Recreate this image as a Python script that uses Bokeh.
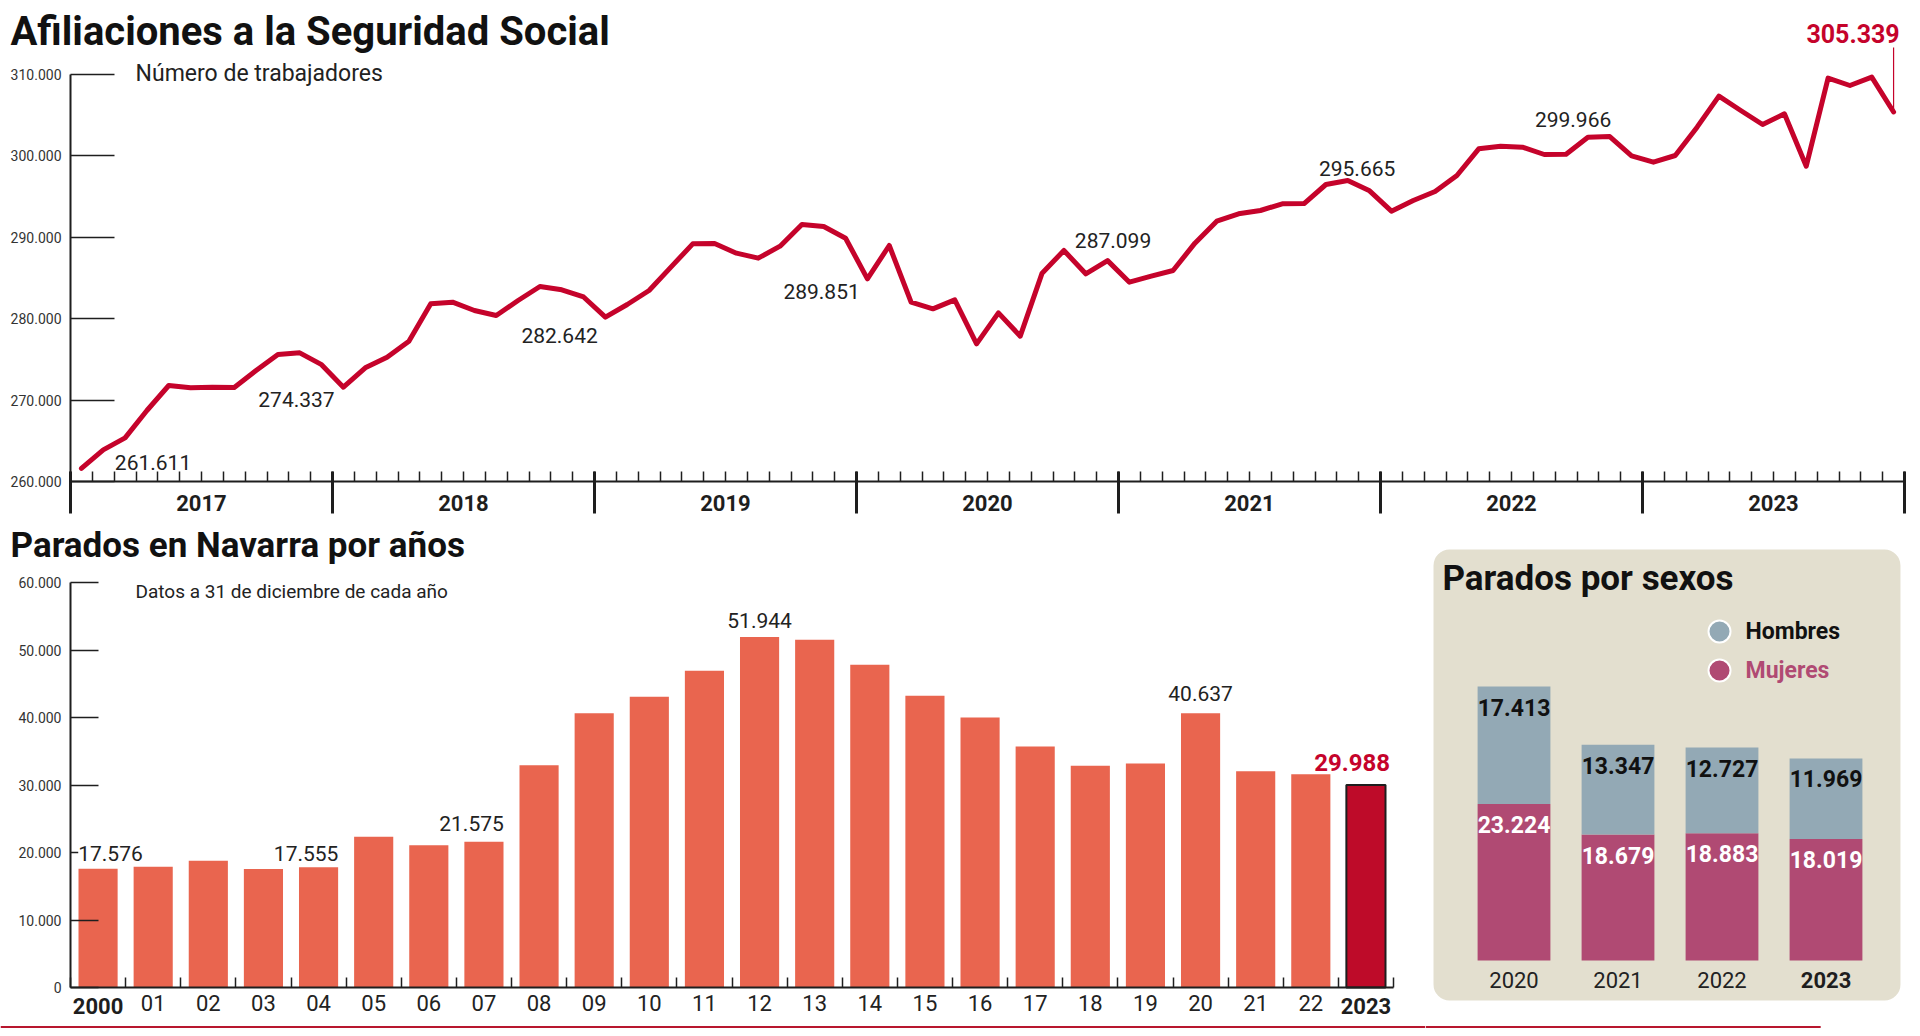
from bokeh.plotting import figure
from bokeh.models import ColumnDataSource, FixedTicker, LabelSet, Label, BoxAnnotation, Range1d, Span
from bokeh.core.properties import value
from bokeh.layouts import column, row
from bokeh.embed import file_html
from bokeh.resources import INLINE

# ---------------- data: afiliaciones (monthly, Jan 2017 - Dec 2023) ----------------
afil_years = ["2017", "2018", "2019", "2020", "2021", "2022", "2023"]
afil_2017 = [261611, 263885, 265358, 268712, 271779, 271493, 271575, 271540, 273620, 275583, 275787, 274337]
afil_2018 = [271575, 273947, 275256, 277219, 281800, 282004, 280982, 280368, 282209, 283926, 283517, 282642]
afil_2019 = [280164, 281718, 283436, 286299, 289161, 289200, 288016, 287403, 288875, 291534, 291288, 289851]
afil_2020 = [284867, 288957, 282004, 281186, 282290, 276892, 280695, 277832, 285562, 288344, 285481, 287099]
afil_2021 = [284458, 285194, 285890, 289243, 291943, 292843, 293252, 294070, 294100, 296442, 296933, 295665]
afil_2022 = [293170, 294479, 295583, 297546, 300818, 301145, 301022, 300123, 300150, 302249, 302331, 299966]
afil_2023 = [299182, 300000, 303476, 307280, 305521, 303804, 305112, 298691, 309489, 308589, 309611, 305339]
afiliados = afil_2017 + afil_2018 + afil_2019 + afil_2020 + afil_2021 + afil_2022 + afil_2023

afil_yticks = [260000, 270000, 280000, 290000, 300000, 310000]
afil_ytick_labels = ["260.000", "270.000", "280.000", "290.000", "300.000", "310.000"]

afil_notes = ["261.611", "274.337", "282.642", "289.851", "287.099", "295.665", "299.966"]
afil_note_month = [3.78, 10.35, 22.40, 34.40, 47.75, 58.93, 68.82]
afil_note_value = [262331, 270061, 277914, 283264, 289571, 298429, 304442]
afil_last_note = "305.339"

# ---------------- data: parados por años ----------------
parados_labels = ["2000", "01", "02", "03", "04", "05", "06", "07", "08", "09", "10", "11",
                  "12", "13", "14", "15", "16", "17", "18", "19", "20", "21", "22", "2023"]
parados = [17576, 17877, 18770, 17555, 17800, 22320, 21090, 21575, 32940, 40640, 43060, 46910,
           51944, 51510, 47800, 43210, 40000, 35700, 32840, 33190, 40637, 32026, 31610, 29988]
parados_yticks = [0, 10000, 20000, 30000, 40000, 50000, 60000]
parados_ytick_labels = ["0", "10.000", "20.000", "30.000", "40.000", "50.000", "60.000"]
parados_notes = ["17.576", "17.555", "21.575", "51.944", "40.637"]
parados_note_x = [-0.36, 4.36, 7.36, 12.0, 20.0]
parados_note_y = [19852, 19852, 24296, 54370, 43556]
parados_note_align = ["left", "right", "right", "center", "center"]
parados_last_note = "29.988"

# ---------------- data: parados por sexos ----------------
sexos_years = ["2020", "2021", "2022", "2023"]
hombres = [17413, 13347, 12727, 11969]
mujeres = [23224, 18679, 18883, 18019]
hombres_labels = ["17.413", "13.347", "12.727", "11.969"]
mujeres_labels = ["23.224", "18.679", "18.883", "18.019"]

# ---------------- style ----------------
RED = "#c5032b"
CORAL = "#e9654f"
DARKRED = "#be0b29"
GREYBLUE = "#93a9b5"
MAGENTA = "#b04a73"
BEIGE = "#e3dfcf"
INK = "#1e1e1e"
RULE = "#b8162e"
FONT = "Roboto"


def clean(p):
    p.grid.visible = False
    p.outline_line_color = None
    p.background_fill_color = "white"
    p.border_fill_color = "white"


def style_axis(ax):
    ax.axis_line_width = 2
    ax.axis_line_color = INK
    ax.major_tick_line_color = INK
    ax.minor_tick_line_color = INK
    ax.major_label_text_font = FONT
    ax.major_label_text_color = "#333333"


# ======================= Figure A: afiliaciones =======================
A_W, A_H = 1912, 518
a_px_month = 1834 / 84.0           # px per month
a_axis_px, a_ppk = 481.0, 8.15     # page y of 260.000, px per 1000
n_months = len(afiliados)
a_x0 = -70 / a_px_month
a_x1 = (A_W - 70) / a_px_month
a_y1 = 260000 + a_axis_px / a_ppk * 1000
a_y0 = 260000 - (A_H - a_axis_px) / a_ppk * 1000

pA = figure(width=A_W, height=A_H, x_range=Range1d(a_x0, a_x1), y_range=Range1d(a_y0, a_y1),
            output_backend="svg", toolbar_location=None,
            min_border_left=0, min_border_right=0, min_border_top=0, min_border_bottom=0)
clean(pA)

months_x = [m + 0.5 for m in range(n_months)]
pA.line(months_x, afiliados, line_color=RED, line_width=5, line_join="round", line_cap="round")
pA.segment(x0=[months_x[-1]], y0=[afiliados[-1]], x1=[months_x[-1]], y1=[313250],
           line_color=RED, line_width=1.2)

ya = pA.yaxis[0]
ya.fixed_location = 0
style_axis(ya)
ya.ticker = FixedTicker(ticks=afil_yticks)
ya.major_label_overrides = dict(zip(afil_yticks, afil_ytick_labels))
ya.bounds = (afil_yticks[0], afil_yticks[-1])
ya.major_tick_in = 44
ya.major_tick_out = 0
ya.minor_tick_in = 0
ya.minor_tick_out = 0
ya.major_tick_line_width = 1.5
ya.major_label_standoff = 9
ya.major_label_text_font_size = "14px"

year_bounds = [12 * i for i in range(len(afil_years) + 1)]
xa = pA.xaxis[0]
xa.fixed_location = 260000
style_axis(xa)
xa.ticker = FixedTicker(ticks=year_bounds, minor_ticks=list(range(n_months + 1)))
xa.major_label_overrides = {t: "" for t in year_bounds}
xa.bounds = (0, n_months)
xa.major_tick_in = 10
xa.major_tick_out = 32
xa.major_tick_line_width = 3
xa.minor_tick_in = 10
xa.minor_tick_out = 0
xa.minor_tick_line_width = 1.5

year_src = ColumnDataSource(dict(x=[12 * i + 6 for i in range(len(afil_years))],
                                 y=[257423] * len(afil_years), text=afil_years))
pA.add_layout(LabelSet(x="x", y="y", text="text", source=year_src, text_align="center",
                       text_baseline="middle", text_font=value(FONT), text_font_style="bold",
                       text_font_size="22px", text_color=INK))

note_src = ColumnDataSource(dict(x=afil_note_month, y=afil_note_value, text=afil_notes))
pA.add_layout(LabelSet(x="x", y="y", text="text", source=note_src, text_align="center",
                       text_baseline="middle", text_font=value(FONT), text_font_size="21px",
                       text_color="#222222"))
pA.add_layout(Label(x=83.78, y=314969, text=afil_last_note, text_align="right", text_baseline="middle",
                    text_font=FONT, text_font_style="bold", text_font_size="25px", text_color=RED))

pA.add_layout(Label(x=-2.75, y=315215, text="Afiliaciones a la Seguridad Social", text_align="left",
                    text_baseline="middle", text_font=FONT, text_font_style="bold",
                    text_font_size="40px", text_color="#111111"))
pA.add_layout(Label(x=2.98, y=310061, text="Número de trabajadores", text_align="left",
                    text_baseline="middle", text_font=FONT, text_font_size="23px",
                    text_color="#222222"))

# ======================= Figure B: parados por años =======================
B_TOP = float(A_H)                 # page y of figure top
B_W, B_H = 1425, 1028 - A_H
b_px_cat = 55.125
b_axis_px, b_ppk = 987.0, 6.75
n_bars = len(parados)
idx = list(range(n_bars))
b_x0 = -70 / b_px_cat - 0.5
b_x1 = (B_W - 70) / b_px_cat - 0.5
b_y1 = (b_axis_px - B_TOP) / b_ppk * 1000
b_y0 = -(B_TOP + B_H - b_axis_px) / b_ppk * 1000

pB = figure(width=B_W, height=B_H, x_range=Range1d(b_x0, b_x1), y_range=Range1d(b_y0, b_y1),
            output_backend="svg", toolbar_location=None,
            min_border_left=0, min_border_right=0, min_border_top=0, min_border_bottom=0)
clean(pB)

pB.vbar(x=idx[:-1], top=parados[:-1], width=0.71, fill_color=CORAL, line_color=None)
pB.vbar(x=idx[-1:], top=parados[-1:], width=0.71, fill_color=DARKRED, line_color=INK, line_width=2)

yb = pB.yaxis[0]
yb.fixed_location = -0.5
style_axis(yb)
yb.ticker = FixedTicker(ticks=parados_yticks)
yb.major_label_overrides = dict(zip(parados_yticks, parados_ytick_labels))
yb.bounds = (parados_yticks[0], parados_yticks[-1])
yb.major_tick_in = 28
yb.major_tick_out = 0
yb.minor_tick_in = 0
yb.minor_tick_out = 0
yb.major_tick_line_width = 1.5
yb.major_label_standoff = 9
yb.major_label_text_font_size = "14px"

xb = pB.xaxis[0]
xb.fixed_location = 0
style_axis(xb)
xb.ticker = FixedTicker(ticks=idx, minor_ticks=[i - 0.5 for i in range(n_bars + 1)])
overrides = {i: lab for i, lab in zip(idx, parados_labels)}
overrides[idx[0]] = ""
overrides[idx[-1]] = ""
xb.major_label_overrides = overrides
xb.bounds = (-0.5, n_bars - 0.5)
xb.major_tick_in = 0
xb.major_tick_out = 0
xb.minor_tick_in = 10
xb.minor_tick_out = 0
xb.minor_tick_line_width = 1.5
xb.major_label_standoff = 7
xb.major_label_text_font_size = "22px"
xb.major_label_text_color = "#222222"

bold_src = ColumnDataSource(dict(x=[idx[0], idx[-1]], y=[-2667, -2667],
                                 text=[parados_labels[0], parados_labels[-1]]))
pB.add_layout(LabelSet(x="x", y="y", text="text", source=bold_src, text_align="center",
                       text_baseline="middle", text_font=value(FONT), text_font_style="bold",
                       text_font_size="22px", text_color=INK))

for t, x, y, al in zip(parados_notes, parados_note_x, parados_note_y, parados_note_align):
    pB.add_layout(Label(x=x, y=y, text=t, text_align=al, text_baseline="middle",
                        text_font=FONT, text_font_size="21px", text_color="#222222",
                        background_fill_color="white", background_fill_alpha=1.0))
pB.add_layout(Label(x=22.75, y=33333, text=parados_last_note, text_align="center", text_baseline="middle",
                    text_font=FONT, text_font_style="bold", text_font_size="24px", text_color=RED))

pB.add_layout(Label(x=-1.588, y=65481, text="Parados en Navarra por años", text_align="left",
                    text_baseline="middle", text_font=FONT, text_font_style="bold",
                    text_font_size="35px", text_color="#111111"))
pB.add_layout(Label(x=0.679, y=58667, text="Datos a 31 de diciembre de cada año", text_align="left",
                    text_baseline="middle", text_font=FONT, text_font_size="19px",
                    text_color="#222222"))
# thin red rule along the bottom of the page
pB.add_layout(Span(location=b_y0 + 1.5 / b_ppk * 1000, dimension="width", line_color=RULE, line_width=2))

# ======================= Figure C: parados por sexos =======================
C_W, C_H = 487, B_H
c_ppk = 6.74
c_y1 = (960 - B_TOP) / c_ppk * 1000
c_y0 = c_y1 - C_H / c_ppk * 1000
c_x0 = -0.851
c_x1 = c_x0 + C_W / 104

pC = figure(width=C_W, height=C_H, x_range=Range1d(c_x0, c_x1), y_range=Range1d(c_y0, c_y1),
            output_backend="svg", toolbar_location=None, x_axis_location=None, y_axis_location=None,
            min_border_left=0, min_border_right=0, min_border_top=0, min_border_bottom=0)
clean(pC)

pC.add_layout(BoxAnnotation(left=-0.774, right=3.716, top=60979, bottom=-5935, fill_color=BEIGE,
                            fill_alpha=1.0, line_color=None, border_radius=16, level="underlay"))
pC.add_layout(BoxAnnotation(left=c_x0, right=2.949, top=c_y0 + 2.5 / c_ppk * 1000, bottom=c_y0 + 0.5 / c_ppk * 1000,
                            fill_color=RULE, fill_alpha=1.0, line_color=None, level="underlay"))

sx = list(range(len(sexos_years)))
totals = [h + m for h, m in zip(hombres, mujeres)]
pC.vbar(x=sx, bottom=0, top=mujeres, width=0.70, fill_color=MAGENTA, line_color=None)
pC.vbar(x=sx, bottom=mujeres, top=totals, width=0.70, fill_color=GREYBLUE, line_color=None)

h_src = ColumnDataSource(dict(x=sx, y=[t - 3050 for t in totals], text=hombres_labels))
m_src = ColumnDataSource(dict(x=sx, y=[m - 3050 for m in mujeres], text=mujeres_labels))
pC.add_layout(LabelSet(x="x", y="y", text="text", source=h_src, text_align="center", text_baseline="middle",
                       text_font=value(FONT), text_font_style="bold", text_font_size="23px",
                       text_color="#111111"))
pC.add_layout(LabelSet(x="x", y="y", text="text", source=m_src, text_align="center", text_baseline="middle",
                       text_font=value(FONT), text_font_style="bold", text_font_size="23px",
                       text_color="white"))

yr_src = ColumnDataSource(dict(x=sx[:-1], y=[-2967] * (len(sx) - 1), text=sexos_years[:-1]))
pC.add_layout(LabelSet(x="x", y="y", text="text", source=yr_src, text_align="center", text_baseline="middle",
                       text_font=value(FONT), text_font_size="22px", text_color="#222222"))
pC.add_layout(Label(x=sx[-1], y=-2967, text=sexos_years[-1], text_align="center", text_baseline="middle",
                    text_font=FONT, text_font_style="bold", text_font_size="22px", text_color=INK))

pC.scatter(x=[1.976, 1.976], y=[48813, 43027], size=22, marker="circle",
           fill_color=[GREYBLUE, MAGENTA], line_color="white", line_width=2)
pC.add_layout(Label(x=2.226, y=48813, text="Hombres", text_align="left", text_baseline="middle",
                    text_font=FONT, text_font_style="bold", text_font_size="23px", text_color="#111111"))
pC.add_layout(Label(x=2.226, y=43027, text="Mujeres", text_align="left", text_baseline="middle",
                    text_font=FONT, text_font_style="bold", text_font_size="23px", text_color=MAGENTA))

pC.add_layout(Label(x=-0.688, y=56677, text="Parados por sexos", text_align="left",
                    text_baseline="middle", text_font=FONT, text_font_style="bold",
                    text_font_size="35px", text_color="#111111"))

layout = column(pA, row(pB, pC))
open("out.html", "w").write(file_html(layout, INLINE))
